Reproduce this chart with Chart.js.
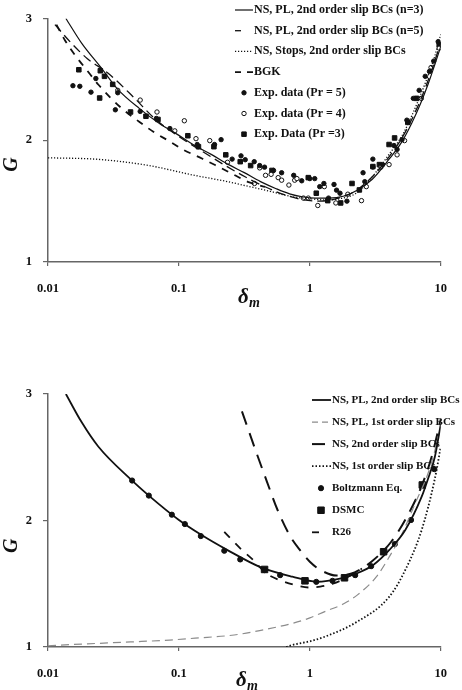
<!DOCTYPE html>
<html>
<head>
<meta charset="utf-8">
<script src="https://cdn.jsdelivr.net/npm/chart.js@4.4.0/dist/chart.umd.min.js"></script>
<style>
  html, body { margin: 0; padding: 0; background: #fff; }
  #wrap { position: relative; width: 462px; height: 690px; }
  canvas { position: absolute; left: 0; }
  #top { top: 0; }
  #bottom { top: 335px; }
</style>
</head>
<body>
<div id="wrap">
  <canvas id="top" width="462" height="335"></canvas>
  <canvas id="bottom" width="462" height="355"></canvas>
</div>
<script>
// axis ticks
const xTicks = [0.01, 0.1, 1, 10];

// ---- top panel ----
const n3X = [0.0137, 0.018, 0.0257, 0.034, 0.05, 0.0714, 0.1, 0.13, 0.178, 0.24, 0.313, 0.42, 0.553, 0.7, 0.873, 1.1, 1.4, 1.8, 2.3, 3, 4, 5, 6, 7, 8, 9, 10];
const n3G = [3.0, 2.8, 2.59, 2.42, 2.26, 2.136, 2.04, 1.96, 1.882, 1.8, 1.736, 1.66, 1.602, 1.56, 1.536, 1.525, 1.525, 1.54, 1.59, 1.68, 1.84, 1.98, 2.14, 2.3, 2.46, 2.62, 2.77];

const n5X = [0.0113, 0.015, 0.02, 0.0288, 0.0454, 0.0656, 0.1, 0.15, 0.22, 0.32, 0.45, 0.65, 0.9, 1.2, 1.6, 2.2, 3, 4, 5, 6, 7, 8, 9, 10];
const n5G = [2.95, 2.8, 2.67, 2.55, 2.35, 2.176, 2.03, 1.91, 1.8, 1.7, 1.62, 1.55, 1.51, 1.5, 1.52, 1.58, 1.7, 1.86, 2.01, 2.17, 2.33, 2.49, 2.65, 2.8];

const stopsX = [0.01, 0.0243, 0.057, 0.134, 0.236, 0.313, 0.5, 0.736, 1.0, 1.29, 1.7, 2.3, 3, 4, 5.08, 6, 7, 8, 9, 10];
const stopsG = [1.856, 1.843, 1.795, 1.71, 1.66, 1.63, 1.58, 1.536, 1.52, 1.51, 1.52, 1.57, 1.7, 1.88, 2.04, 2.2, 2.37, 2.53, 2.69, 2.87];

const bgkX = [0.0116, 0.0135, 0.0158, 0.02, 0.0243, 0.03, 0.0371, 0.05, 0.0638, 0.085, 0.109, 0.15, 0.194, 0.26, 0.341, 0.454];
const bgkG = [2.95, 2.82, 2.71, 2.57, 2.456, 2.35, 2.256, 2.15, 2.07, 1.99, 1.92, 1.85, 1.79, 1.72, 1.656, 1.616];

const pr5X = [0.0155, 0.0175, 0.0213, 0.0232, 0.0327, 0.0341, 0.0506, 0.0672, 0.0853, 0.138, 0.187, 0.21, 0.255, 0.298, 0.321, 0.376, 0.414, 0.451, 0.528, 0.609, 0.753, 0.867, 1.0, 1.09, 1.19, 1.28, 1.39, 1.53, 1.6, 1.7, 1.92, 2.55, 2.63, 3.03, 3.03, 3.6, 4.39, 4.64, 5.06, 5.51, 6.17, 6.84, 7.61, 8.2, 8.83, 9.56];
const pr5G = [2.448, 2.443, 2.395, 2.507, 2.25, 2.39, 2.237, 2.179, 2.096, 1.965, 1.965, 2.005, 1.845, 1.872, 1.84, 1.824, 1.792, 1.779, 1.752, 1.733, 1.712, 1.667, 1.685, 1.685, 1.619, 1.645, 1.525, 1.637, 1.59, 1.565, 1.5, 1.733, 1.66, 1.845, 1.78, 1.8, 1.957, 1.925, 2.005, 2.165, 2.344, 2.41, 2.525, 2.565, 2.65, 2.81];

const pr4X = [0.0341, 0.0506, 0.068, 0.093, 0.11, 0.135, 0.172, 0.235, 0.378, 0.414, 0.459, 0.506, 0.573, 0.609, 0.692, 0.766, 0.797, 0.893, 0.973, 1.15, 1.29, 1.58, 1.95, 2.48, 2.7, 3.49, 4.03, 4.64, 5.29, 7.11, 8.43, 9.73];
const pr4G = [2.41, 2.33, 2.232, 2.077, 2.16, 2.013, 1.997, 1.819, 1.645, 1.773, 1.712, 1.72, 1.693, 1.672, 1.632, 1.672, 1.685, 1.525, 1.525, 1.464, 1.619, 1.485, 1.557, 1.504, 1.619, 1.779, 1.8, 1.88, 1.997, 2.344, 2.597, 2.757];

const pr3X = [0.0172, 0.0248, 0.0251, 0.027, 0.0312, 0.0427, 0.056, 0.0692, 0.117, 0.141, 0.185, 0.228, 0.294, 0.353, 0.514, 0.973, 1.12, 1.37, 1.72, 2.1, 2.39, 3.03, 3.4, 4.03, 4.44, 5.6, 6.53, 9.73];
const pr3G = [2.579, 2.347, 2.571, 2.525, 2.459, 2.232, 2.197, 2.171, 2.037, 1.947, 1.947, 1.88, 1.824, 1.792, 1.752, 1.693, 1.565, 1.504, 1.485, 1.645, 1.592, 1.784, 1.8, 1.965, 2.019, 2.147, 2.344, 2.784];

// ---- bottom panel ----
const pl2X = [0.0137, 0.018, 0.0242, 0.0439, 0.0589, 0.1, 0.149, 0.235, 0.414, 0.736, 1.13, 1.73, 2.3, 3.05, 4.05, 5.36, 7.15, 8, 9, 10];
const pl2G = [3.0, 2.78, 2.585, 2.315, 2.197, 2.004, 1.885, 1.766, 1.634, 1.556, 1.516, 1.543, 1.583, 1.648, 1.767, 1.925, 2.188, 2.33, 2.5, 2.76];

const pl1X = [0.01, 0.02, 0.0427, 0.085, 0.133, 0.264, 0.414, 0.736, 1.0, 1.3, 1.8, 2.3, 3.23, 4.05, 5.08, 6.38, 8, 9, 10];
const pl1G = [1.01, 1.025, 1.04, 1.055, 1.07, 1.095, 1.13, 1.187, 1.23, 1.28, 1.34, 1.41, 1.556, 1.714, 1.899, 2.136, 2.373, 2.55, 2.74];

const ns2X = [0.303, 0.392, 0.47, 0.567, 0.711, 0.85, 1.0, 1.2, 1.6, 2.2, 3, 4.17, 5.38, 7, 8.5, 10];
const ns2G = [2.863, 2.532, 2.308, 2.083, 1.872, 1.76, 1.674, 1.61, 1.565, 1.59, 1.68, 1.83, 2.01, 2.25, 2.5, 2.8];

const ns1X = [0.66, 0.736, 1.0, 1.3, 2.3, 4.05, 5.36, 7.15, 8.97, 10];
const ns1G = [1.0, 1.016, 1.045, 1.081, 1.2, 1.398, 1.609, 1.925, 2.32, 2.58];

const r26X = [0.222, 0.294, 0.37, 0.46, 0.6, 0.83, 1.0, 1.2, 1.5, 2.0, 2.5];
const r26G = [1.911, 1.78, 1.687, 1.585, 1.525, 1.482, 1.47, 1.477, 1.5, 1.56, 1.62];

const boltzX = [0.0439, 0.0589, 0.0883, 0.111, 0.147, 0.222, 0.294, 0.451, 0.593, 1.12, 1.49, 2.22, 2.94, 4.46, 5.93, 8.93];
const boltzG = [2.316, 2.197, 2.046, 1.972, 1.877, 1.761, 1.692, 1.608, 1.568, 1.515, 1.523, 1.568, 1.639, 1.814, 2.004, 2.406];

const dsmcX = [0.451, 0.918, 1.84, 3.66, 7.23];
const dsmcG = [1.613, 1.523, 1.547, 1.753, 2.281];

const SERIF = '"Liberation Serif", "Times New Roman", serif';
const INK = '#111';

const pts = (xs, ys) => xs.map((x, i) => ({ x: x, y: ys[i] }));

function curve(label, xs, ys, color, width, dash, legendDash) {
  return {
    label, data: pts(xs, ys), showLine: true, fill: false,
    borderColor: color, borderWidth: width, borderDash: dash,
    legendDash: legendDash, cubicInterpolationMode: 'monotone',
    pointRadius: 0, pointHoverRadius: 0
  };
}

function marks(label, xs, ys, style, r, fillColor) {
  return {
    label, data: pts(xs, ys), showLine: false,
    pointStyle: style, pointRadius: r, pointHoverRadius: r,
    pointBackgroundColor: fillColor, pointBorderColor: INK, pointBorderWidth: 1
  };
}

// own marker drawing for the legend
function drawMark(ctx, ds, x, y) {
  const r = ds.pointRadius;
  ctx.save();
  ctx.fillStyle = ds.pointBackgroundColor;
  ctx.strokeStyle = ds.pointBorderColor;
  ctx.lineWidth = ds.pointBorderWidth;
  ctx.beginPath();
  if (ds.pointStyle === 'rect') {
    const s = r * Math.SQRT1_2;
    ctx.rect(x - s, y - s, 2 * s, 2 * s);
  } else {
    ctx.arc(x, y, r, 0, Math.PI * 2);
  }
  ctx.fill();
  ctx.stroke();
  ctx.restore();
}

const insideLegend = {
  id: 'insideLegend',
  afterDraw(chart, args, o) {
    const ctx = chart.ctx;
    ctx.save();
    ctx.font = o.font;
    ctx.textBaseline = 'middle';
    chart.data.datasets.forEach((ds, i) => {
      const y = o.y + i * o.step;
      if (ds.showLine) {
        ctx.save();
        ctx.strokeStyle = ds.borderColor;
        ctx.lineWidth = ds.borderWidth;
        ctx.setLineDash(ds.legendDash || ds.borderDash || []);
        ctx.beginPath();
        ctx.moveTo(o.x, y);
        ctx.lineTo(o.x + o.sample, y);
        ctx.stroke();
        ctx.restore();
      } else {
        drawMark(ctx, ds, o.x + o.markAt, y);
      }
      ctx.fillStyle = INK;
      ctx.fillText(ds.label, o.x + o.sample + o.gap, y);
    });
    ctx.restore();
  }
};

const axisTitles = {
  id: 'axisTitles',
  afterDraw(chart, args, o) {
    const ctx = chart.ctx;
    const a = chart.chartArea;
    ctx.save();
    ctx.fillStyle = INK;
    ctx.translate(o.gx, a.top + 0.6 * (a.bottom - a.top));
    ctx.rotate(-Math.PI / 2);
    ctx.font = 'italic bold 20px ' + SERIF;
    ctx.textAlign = 'center';
    ctx.textBaseline = 'middle';
    ctx.fillText('G', 0, 0);
    ctx.restore();

    ctx.save();
    ctx.fillStyle = INK;
    ctx.textAlign = 'left';
    ctx.textBaseline = 'alphabetic';
    ctx.font = 'italic bold 21px ' + SERIF;
    ctx.fillText('δ', o.dx, a.bottom + o.dy);
    ctx.font = 'italic bold 14px ' + SERIF;
    ctx.fillText('m', o.dx + 11, a.bottom + o.dy + 4);
    ctx.restore();
  }
};

function makeOptions(xHeight, padTop, legend, titles) {
  return {
    responsive: false,
    animation: false,
    events: [],
    layout: { padding: { top: padTop, right: 8, left: 0, bottom: 0 } },
    plugins: {
      legend: { display: false },
      tooltip: { enabled: false },
      insideLegend: legend,
      axisTitles: titles
    },
    scales: {
      x: {
        type: 'logarithmic', min: 0.01, max: 10,
        afterBuildTicks: s => { s.ticks = xTicks.map(v => ({ value: v })); },
        afterFit: s => { s.height = xHeight; },
        ticks: {
          callback: v => String(v), maxRotation: 0, autoSkip: false,
          padding: 15, color: INK, font: { family: SERIF, weight: 'bold', size: 12.5 }
        },
        grid: { drawOnChartArea: false, tickLength: 4, color: '#666', lineWidth: 1.2 },
        border: { color: '#666', width: 1.5 }
      },
      y: {
        type: 'linear', min: 1, max: 3,
        afterFit: s => { s.width = 48; },
        ticks: {
          stepSize: 1, padding: 11, color: INK,
          font: { family: SERIF, weight: 'bold', size: 12.5 }
        },
        grid: { drawOnChartArea: false, tickLength: 5, color: '#666', lineWidth: 1.2 },
        border: { color: '#666', width: 1.5 }
      }
    }
  };
}

new Chart(document.getElementById('top'), {
  type: 'scatter',
  data: {
    datasets: [
      curve('NS, PL, 2nd order slip BCs (n=3)', n3X, n3G, INK, 1.2, []),
      curve('NS, PL, 2nd order slip BCs (n=5)', n5X, n5G, INK, 1.3, [9, 5], [6, 100]),
      curve('NS, Stops, 2nd order slip BCs', stopsX, stopsG, INK, 1.3, [1.2, 1.8]),
      curve('BGK', bgkX, bgkG, INK, 1.8, [7, 7], [6, 6]),
      marks('Exp. data (Pr = 5)', pr5X, pr5G, 'circle', 2.2, INK),
      marks('Exp. data (Pr = 4)', pr4X, pr4G, 'circle', 2.2, '#fff'),
      marks('Exp. Data (Pr =3)', pr3X, pr3G, 'rect', 3.2, INK)
    ]
  },
  options: makeOptions(73, 12,
    { x: 235, y: 10, step: 20.7, sample: 18, gap: 1, markAt: 9, font: 'bold 12px ' + SERIF },
    { gx: 12, dx: 238, dy: 41 }),
  plugins: [insideLegend, axisTitles]
});

new Chart(document.getElementById('bottom'), {
  type: 'scatter',
  data: {
    datasets: [
      curve('NS, PL, 2nd order slip BCs', pl2X, pl2G, INK, 1.8, []),
      curve('NS, PL, 1st order slip BCs', pl1X, pl1G, '#8c8c8c', 1.2, [8, 5], [6, 4]),
      curve('NS, 2nd order slip BCs', ns2X, ns2G, INK, 2, [14, 9], [13, 100]),
      curve('NS, 1st order slip BCs', ns1X, ns1G, INK, 1.8, [1.5, 2]),
      marks('Boltzmann Eq.', boltzX, boltzG, 'circle', 2.6, INK),
      marks('DSMC', dsmcX, dsmcG, 'rect', 4.6, INK),
      curve('R26', r26X, r26G, INK, 1.8, [8, 8], [7, 100])
    ]
  },
  options: makeOptions(43, 59,
    { x: 312, y: 65, step: 22.05, sample: 19, gap: 1, markAt: 9, font: 'bold 11px ' + SERIF },
    { gx: 12, dx: 236, dy: 39 }),
  plugins: [insideLegend, axisTitles]
});
</script>
</body>
</html>
